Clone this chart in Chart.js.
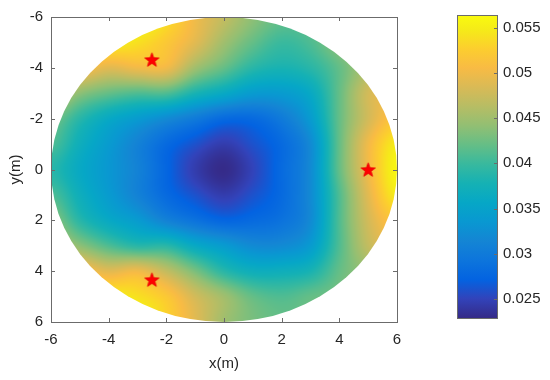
<!DOCTYPE html>
<html>
<head>
<meta charset="utf-8">
<script src="https://cdn.jsdelivr.net/npm/chart.js@4.4.1/dist/chart.umd.min.js"></script>
<style>
  html, body { margin: 0; padding: 0; background: #fff; }
  #wrap { position: relative; width: 550px; height: 380px; }
  #main { position: absolute; left: 0; top: 0; }
  #cbar { position: absolute; left: 420px; top: 0; }
</style>
</head>
<body>
<div id="wrap">
  <canvas id="main" width="420" height="380"></canvas>
  <canvas id="cbar" width="130" height="380"></canvas>
</div>
<script>
// grid nodes (m)
const gridX = [-6, -5, -4, -3, -2, -1, 0, 1, 2, 3, 4, 5, 6];
const gridY = [-6, -5, -4, -3, -2, -1, 0, 1, 2, 3, 4, 5, 6];

// values, one row per y (top row y=-6)
const field = [
  [.054, .055, .056, .056, .054, .050, .047, .044, .042, .042, .043, .045, .047],
  [.053, .054, .055, .054, .052, .049, .045, .042, .040, .041, .044, .047, .049],
  [.051, .051, .049, .050, .050, .045, .042, .039, .038, .039, .042, .046, .049],
  [.048, .044, .042, .041, .041, .038, .036, .034, .034, .036, .042, .048, .050],
  [.043, .039, .036, .034, .032, .030, .028, .028, .030, .034, .042, .048, .052],
  [.041, .037, .034, .031, .028, .026, .0245, .026, .028, .032, .042, .050, .055],
  [.039, .036, .0335, .031, .0275, .0245, .023, .025, .028, .032, .042, .050, .056],
  [.041, .037, .034, .031, .028, .026, .0245, .026, .028, .032, .041, .049, .055],
  [.044, .039, .036, .034, .031, .029, .0275, .028, .029, .032, .041, .048, .052],
  [.047, .044, .041, .039, .039, .036, .034, .032, .032, .034, .041, .047, .050],
  [.050, .051, .049, .050, .047, .043, .039, .037, .037, .038, .042, .045, .048],
  [.053, .054, .055, .054, .052, .048, .045, .042, .041, .042, .043, .046, .048],
  [.054, .055, .056, .056, .053, .049, .045, .043, .042, .042, .043, .045, .047]
];

// source positions (stars)
const starX = [-2.5, 5, -2.5];
const starY = [-4.33, 0, 4.33];

const xTicks = [-6, -4, -2, 0, 2, 4, 6];
const yTicks = [-6, -4, -2, 0, 2, 4, 6];
const cbTicks = [0.025, 0.03, 0.035, 0.04, 0.045, 0.05, 0.055];
const cLim = [0.0229, 0.0564];
const radius = 6;

const FONT = "'Liberation Sans', Arial, Helvetica, sans-serif";
const TXT = '#262626';
const AXC = '#6b6b6b';

// parula, every 4th entry of the 64 map
const parula = [
  [53, 42, 135], [50, 67, 186], [3, 99, 225], [13, 117, 220], [20, 133, 212],
  [9, 152, 209], [6, 167, 198], [21, 177, 180], [56, 185, 158], [101, 190, 134],
  [146, 191, 115], [183, 189, 100], [217, 186, 86], [248, 187, 68], [252, 206, 46],
  [245, 235, 24], [249, 251, 14]
];
const parulaPos = parula.map((_, i) => i === parula.length - 1 ? 1 : i * 4 / 63);

let colorAt = v => {
  let t = (v - cLim[0]) / (cLim[1] - cLim[0]);
  t = Math.max(0, Math.min(1, t));
  let k = 0;
  while (k < parula.length - 2 && t > parulaPos[k + 1]) k++;
  let f = (t - parulaPos[k]) / (parulaPos[k + 1] - parulaPos[k]);
  let a = parula[k], b = parula[k + 1];
  return [0, 1, 2].map(c => Math.round(a[c] + (b[c] - a[c]) * f));
}

// smooth lookup in the read grid (shading)
let cr = (p0, p1, p2, p3, t) =>
  p1 + 0.5 * t * (p2 - p0 + t * (2 * p0 - 5 * p1 + 4 * p2 - p3 + t * (3 * (p1 - p2) + p3 - p0)));

let fieldAt = (x, y) => {
  let nx = gridX.length, ny = gridY.length;
  let fx = (x - gridX[0]) / (gridX[1] - gridX[0]);
  let fy = (y - gridY[0]) / (gridY[1] - gridY[0]);
  let ix = Math.max(0, Math.min(nx - 2, Math.floor(fx)));
  let iy = Math.max(0, Math.min(ny - 2, Math.floor(fy)));
  let tx = fx - ix, ty = fy - iy;
  let g = (i, j) => field[Math.max(0, Math.min(ny - 1, j))][Math.max(0, Math.min(nx - 1, i))];
  let rows = [];
  for (let k = -1; k <= 2; k++) {
    rows.push(cr(g(ix - 1, iy + k), g(ix, iy + k), g(ix + 1, iy + k), g(ix + 2, iy + k), tx));
  }
  return cr(rows[0], rows[1], rows[2], rows[3], ty);
}

let fieldPlugin = {
  id: 'field',
  beforeDatasetsDraw(chart) {
    let { ctx, chartArea: a, scales: { x, y } } = chart;
    let w = Math.round(a.right - a.left), h = Math.round(a.bottom - a.top);
    let off = document.createElement('canvas');
    off.width = w; off.height = h;
    let octx = off.getContext('2d');
    let img = octx.createImageData(w, h);
    for (let j = 0; j < h; j++) {
      let yv = y.getValueForPixel(a.top + j + 0.5);
      for (let i = 0; i < w; i++) {
        let xv = x.getValueForPixel(a.left + i + 0.5);
        let c = colorAt(fieldAt(xv, yv));
        let p = (j * w + i) * 4;
        img.data[p] = c[0]; img.data[p + 1] = c[1]; img.data[p + 2] = c[2]; img.data[p + 3] = 255;
      }
    }
    octx.putImageData(img, 0, 0);
    let cx = x.getPixelForValue(0), cy = y.getPixelForValue(0);
    ctx.save();
    ctx.beginPath();
    ctx.ellipse(cx, cy, Math.abs(x.getPixelForValue(radius) - cx), Math.abs(y.getPixelForValue(radius) - cy), 0, 0, 2 * Math.PI);
    ctx.clip();
    ctx.drawImage(off, a.left, a.top);
    ctx.restore();
  }
};

let boxPlugin = {
  id: 'box',
  afterDraw(chart) {
    let { ctx, chartArea: a, scales: { x, y } } = chart;
    ctx.save();
    ctx.strokeStyle = AXC;
    ctx.lineWidth = 1;
    ctx.strokeRect(Math.round(a.left) + 0.5, Math.round(a.top) + 0.5, Math.round(a.right - a.left), Math.round(a.bottom - a.top));
    ctx.beginPath();
    xTicks.forEach(v => {
      let px = Math.round(x.getPixelForValue(v)) + 0.5;
      ctx.moveTo(px, a.bottom); ctx.lineTo(px, a.bottom - 4);
      ctx.moveTo(px, a.top); ctx.lineTo(px, a.top + 4);
    });
    yTicks.forEach(v => {
      let py = Math.round(y.getPixelForValue(v)) + 0.5;
      ctx.moveTo(a.left, py); ctx.lineTo(a.left + 4, py);
      ctx.moveTo(a.right, py); ctx.lineTo(a.right - 4, py);
    });
    ctx.stroke();
    ctx.restore();
  }
};

let starImage = r => {
  let c = document.createElement('canvas');
  let s = Math.ceil(r * 2 + 2);
  c.width = c.height = s;
  let g = c.getContext('2d');
  g.translate(s / 2, s / 2 + 0.8);
  g.beginPath();
  for (let k = 0; k < 10; k++) {
    let rr = k % 2 ? r * 0.42 : r;
    let ang = -Math.PI / 2 + k * Math.PI / 5;
    g.lineTo(rr * Math.cos(ang), rr * Math.sin(ang));
  }
  g.closePath();
  g.fillStyle = '#ff0000';
  g.fill();
  g.strokeStyle = '#e60000';
  g.lineWidth = 0.8;
  g.stroke();
  return c;
}

let tickFont = { family: FONT, size: 15 };

new Chart(document.getElementById('main'), {
  type: 'scatter',
  data: {
    datasets: [{
      data: starX.map((v, i) => ({ x: v, y: starY[i] })),
      pointStyle: starImage(7.5),
      pointRadius: 7
    }]
  },
  options: {
    responsive: false,
    animation: false,
    events: [],
    layout: { padding: { top: 13, right: 23, left: 0, bottom: 0 } },
    plugins: { legend: { display: false }, tooltip: { enabled: false } },
    scales: {
      x: {
        type: 'linear', min: -6, max: 6,
        afterBuildTicks: s => { s.ticks = xTicks.map(v => ({ value: v })); },
        afterFit: s => { s.height = 58; },
        grid: { display: false, drawTicks: false },
        border: { display: false },
        ticks: { color: TXT, font: tickFont, padding: 9, maxRotation: 0 },
        title: { display: true, text: 'x(m)', color: TXT, font: tickFont, padding: { top: 0, bottom: 7 } }
      },
      y: {
        type: 'linear', min: -6, max: 6, reverse: true,
        afterBuildTicks: s => { s.ticks = yTicks.map(v => ({ value: v })); },
        afterFit: s => { s.width = 51; },
        grid: { display: false, drawTicks: false },
        border: { display: false },
        ticks: { color: TXT, font: tickFont, padding: 8 },
        title: { display: true, text: 'y(m)', color: TXT, font: tickFont, padding: { top: 7, bottom: 0 } }
      }
    }
  },
  plugins: [fieldPlugin, boxPlugin]
});

let colorbarPlugin = {
  id: 'colorbar',
  beforeDatasetsDraw(chart) {
    let { ctx, chartArea: a, scales: { y } } = chart;
    let y0 = y.getPixelForValue(cLim[0]), y1 = y.getPixelForValue(cLim[1]);
    let grad = ctx.createLinearGradient(0, y0, 0, y1);
    parula.forEach((c, i) => grad.addColorStop(parulaPos[i], `rgb(${c[0]},${c[1]},${c[2]})`));
    ctx.save();
    ctx.fillStyle = grad;
    ctx.fillRect(a.left, y1, a.right - a.left, y0 - y1);
    ctx.strokeStyle = AXC;
    ctx.lineWidth = 1;
    ctx.strokeRect(Math.round(a.left) + 0.5, Math.round(y1) + 0.5, Math.round(a.right - a.left), Math.round(y0 - y1));
    ctx.beginPath();
    cbTicks.forEach(v => {
      let py = Math.round(y.getPixelForValue(v)) + 0.5;
      ctx.moveTo(a.right, py); ctx.lineTo(a.right - 3, py);
    });
    ctx.stroke();
    ctx.restore();
  }
};

new Chart(document.getElementById('cbar'), {
  type: 'scatter',
  data: { datasets: [] },
  options: {
    responsive: false,
    animation: false,
    events: [],
    layout: { padding: { top: 11, right: 0, left: 37, bottom: 62 } },
    plugins: { legend: { display: false }, tooltip: { enabled: false } },
    scales: {
      x: { display: false, min: 0, max: 1 },
      y: {
        position: 'right', min: cLim[0], max: cLim[1],
        afterBuildTicks: s => { s.ticks = cbTicks.map(v => ({ value: v })); },
        afterFit: s => { s.width = 53; },
        grid: { display: false, drawTicks: false },
        border: { display: false },
        ticks: { color: TXT, font: tickFont, padding: 6, callback: v => String(Number(v.toFixed(3))) }
      }
    }
  },
  plugins: [colorbarPlugin]
});
</script>
</body>
</html>
